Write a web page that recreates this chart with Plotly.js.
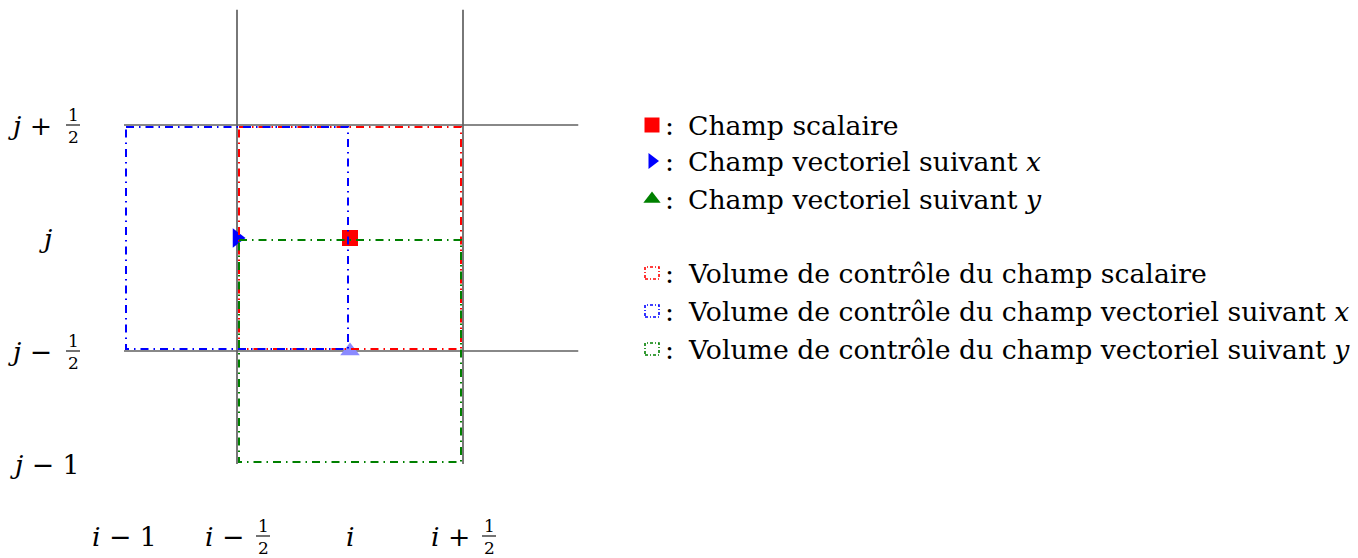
<!DOCTYPE html>
<html>
<head>
<meta charset="utf-8">
<script src="https://cdn.plot.ly/plotly-3.0.1.min.js"></script>
<style>html,body{margin:0;padding:0;background:#fff;} #chart{width:1358px;height:558px;}</style>
</head>
<body>
<div id="chart"></div>
<script>
// ---- data (grid coordinates, unit = one cell, i and j at 0) ----
const gridVerticalX = [-0.5, 0.5];          // i-1/2, i+1/2
const gridHorizontalY = [0.5, -0.5];        // j+1/2, j-1/2
const gridSpan = [-1, 1.01];

const xTickVals = [-1, -0.5, 0, 0.5];
const xTickBase = ['<i>i</i> − 1', '<i>i</i> −', '<i>i</i>', '<i>i</i> +'];
const xTickFrac = [false, true, false, true];

const yTickVals = [0.5, 0, -0.5, -1];
const yTickBase = ['<i>j</i> +', '<i>j</i>', '<i>j</i> −', '<i>j</i> − 1'];
const yTickFrac = [true, false, true, false];

// control volumes: scalar, vector x, vector y
const cvColors = ['#ff0000', '#0000ff', '#008000'];
const cvX0 = [-0.5, -1, -0.5];
const cvX1 = [0.5, 0, 0.5];
const cvY0 = [-0.5, -0.5, -1];
const cvY1 = [0.5, 0.5, 0];

// field points
const pointX = [0, -0.5, 0];
const pointY = [0, 0, -0.5];
const pointSymbols = ['square', 'triangle-right', 'triangle-up'];
const pointColors = ['#ff0000', '#0000ff', '#8a8aff'];

// legend
const legendMarkerSymbols = ['square', 'triangle-right', 'triangle-up'];
const legendMarkerColors = ['#ff0000', '#0000ff', '#008000'];
const legendMarkerTexts = ['Champ scalaire', 'Champ vectoriel suivant <i>x</i>', 'Champ vectoriel suivant <i>y</i>'];
const legendBoxColors = ['#ff0000', '#0000ff', '#008000'];
const legendBoxTexts = ['Volume de contrôle du champ scalaire',
  'Volume de contrôle du champ vectoriel suivant <i>x</i>',
  'Volume de contrôle du champ vectoriel suivant <i>y</i>'];

// ---- layout helpers (pixel mapping: 226 px per unit, origin at (350,238)) ----
const W = 1358, H = 558, S = 226, OX = 350, OY = 238;
const px2x = p => (p - OX) / S;
const py2y = p => (OY - p) / S;
const FONT = 'DejaVu Serif';
const FS = 26.7, FFS = 17;

const traces = [];
// grid lines
gridVerticalX.forEach(x => traces.push({x: [x, x], y: gridSpan, mode: 'lines',
  line: {color: '#606060', width: 1.7}, hoverinfo: 'skip'}));
gridHorizontalY.forEach(y => traces.push({x: gridSpan, y: [y, y], mode: 'lines',
  line: {color: '#606060', width: 1.7}, hoverinfo: 'skip'}));
// field points
traces.push({x: pointX, y: pointY, mode: 'markers', hoverinfo: 'skip',
  marker: {symbol: pointSymbols, color: pointColors, size: [16, 17, 17], opacity: 1, line: {width: 0}}});
// control volumes
const inset = 2 / S;
cvColors.forEach((c, k) => {
  const a = cvX0[k] + inset, b = cvX1[k] - inset, lo = cvY0[k] + inset, hi = cvY1[k] - inset;
  traces.push({x: [a, b, b, a, a], y: [hi, hi, lo, lo, hi], mode: 'lines', hoverinfo: 'skip',
    line: {color: c, width: 2, dash: '8px,5px,1.5px,5px'}});
});
// legend markers
const legRowsA = [125, 161, 199].map(py2y);
const legRowsB = [273, 311, 349].map(py2y);
traces.push({x: legRowsA.map(() => px2x(652)), y: legRowsA, mode: 'markers', hoverinfo: 'skip',
  marker: {symbol: legendMarkerSymbols, color: legendMarkerColors, size: [15, 14, 15], opacity: 1, line: {width: 0}}});

const annotations = [];
const shapes = [];
const txt = (x, y, text, opts) => annotations.push(Object.assign({x, y, xref: 'x', yref: 'y', text,
  showarrow: false, font: {family: FONT, size: FS, color: '#000'}, xanchor: 'center', yanchor: 'middle'}, opts || {}));

function fracLabel(x, y, cx) {
  // stacked 1/2 with bar, centered at pixel offset cx from x
  txt(x, y, '1<br>2', {xshift: cx, yshift: -1, font: {family: FONT, size: FFS, color: '#000'}});
  shapes.push({type: 'line', xref: 'x', yref: 'y', xsizemode: 'pixel', ysizemode: 'pixel',
    xanchor: x, yanchor: y, x0: cx - 7, x1: cx + 7, y0: 0, y1: 0, line: {color: '#000', width: 1.1}});
}
// x tick labels
const xLabY = py2y(536);
xTickVals.forEach((v, k) => {
  if (xTickFrac[k]) {
    txt(v, xLabY, xTickBase[k], {xanchor: 'right', xshift: 9});
    fracLabel(v, xLabY, 26);
  } else txt(v, xLabY, xTickBase[k]);
});
// y tick labels
const yLabX = px2x(45);
yTickVals.forEach((v, k) => {
  if (yTickFrac[k]) {
    txt(yLabX, v, yTickBase[k], {xanchor: 'right', xshift: 9});
    fracLabel(yLabX, v, 28);
  } else txt(yLabX, v, yTickBase[k]);
});
// legend texts
legendMarkerTexts.forEach((t, k) => {
  txt(px2x(669), legRowsA[k], ':');
  txt(px2x(686), legRowsA[k], t, {xanchor: 'left'});
});
legendBoxTexts.forEach((t, k) => {
  txt(px2x(669), legRowsB[k], ':');
  txt(px2x(686), legRowsB[k], t, {xanchor: 'left'});
  shapes.push({type: 'rect', xref: 'x', yref: 'y', xsizemode: 'pixel', ysizemode: 'pixel',
    xanchor: px2x(652), yanchor: legRowsB[k], x0: -7, x1: 7, y0: -6, y1: 6,
    line: {color: legendBoxColors[k], width: 1.6, dash: '3px,2px,1px,2px'}});
});

const layout = {
  width: W, height: H, margin: {l: 0, r: 0, t: 0, b: 0},
  paper_bgcolor: '#fff', plot_bgcolor: '#fff', showlegend: false,
  xaxis: {range: [px2x(0), px2x(W)], visible: false, fixedrange: true},
  yaxis: {range: [py2y(H), py2y(0)], visible: false, fixedrange: true},
  annotations, shapes
};
Plotly.newPlot('chart', traces, layout, {staticPlot: true});
</script>
</body>
</html>
